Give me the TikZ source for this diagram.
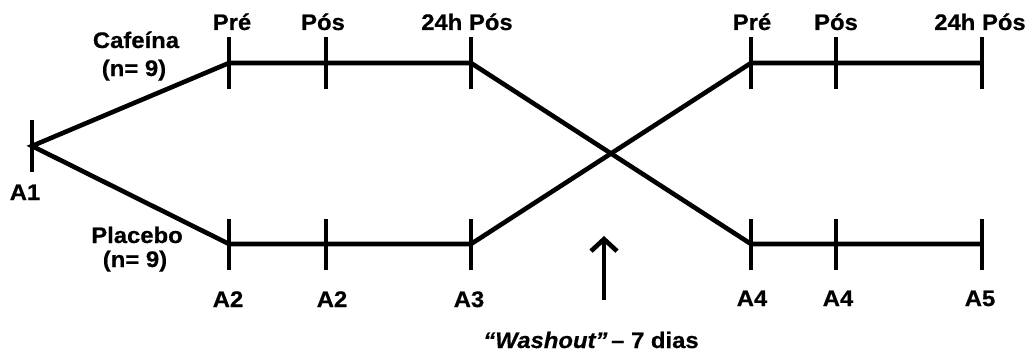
\documentclass[tikz,border=0pt]{standalone}
\usepackage{fontspec}
\setmainfont{Liberation Sans}[FakeStretch=1.06,FakeBold=0.6]
\usetikzlibrary{arrows.meta}
\begin{document}
\begin{tikzpicture}[x=1pt,y=-1pt,
  ln/.style={line width=4.6pt,line cap=butt,line join=miter},
  tk/.style={line width=4.6pt},
  lbl/.style={inner sep=0pt,anchor=base,font=\fontsize{22.5}{26}\selectfont\bfseries}]
\useasboundingbox (0,0) rectangle (1032,353);
% points
\coordinate (a1) at (32,146);
\coordinate (u1) at (229,63);
\coordinate (u2) at (326,63);
\coordinate (u3) at (471,63);
\coordinate (u4) at (751,63);
\coordinate (u5) at (836,63);
\coordinate (u6) at (982,63);
\coordinate (l1) at (229,244);
\coordinate (l2) at (326,244);
\coordinate (l3) at (471,244);
\coordinate (l4) at (751,244);
\coordinate (l5) at (836,244);
\coordinate (l6) at (982,244);
% lines
\draw[ln] (u1) -- (a1) -- (l1);
\draw[ln] (u1) -- (u3) -- (l4) -- (l6);
\draw[ln] (l1) -- (l3) -- (u4) -- (u6);
% ticks
\foreach \p in {a1}{\draw[tk] ([yshift=-26pt]\p) -- ([yshift=26pt]\p);}
\foreach \p in {u1,u2,u3,u4,u5,u6,l1,l2,l3,l4,l5,l6}{\draw[tk] ([yshift=-25.5pt]\p) -- ([yshift=25.5pt]\p);}
% labels top
\node[lbl] (t1) at (232,30) {Pré};
\node[lbl] (t2) at (323,30) {Pós};
\node[lbl] (t3) at (467,30) {24h Pós};
\node[lbl] (t4) at (752,30) {Pré};
\node[lbl] (t5) at (836,30) {Pós};
\node[lbl] (t6) at (980,30) {24h Pós};
\node[lbl] (caf) at (136,48) {Cafeína};
\node[lbl] (cafn) at (134,76) {(n= 9)};
\node[lbl] (pla) at (137,243) {Placebo};
\node[lbl] (plan) at (135,267) {(n= 9)};
\node[lbl] (la1) at (25,200) {A1};
\node[lbl] (b1) at (228,307) {A2};
\node[lbl] (b2) at (332,307) {A2};
\node[lbl] (b3) at (469,307) {A3};
\node[lbl] (b4) at (752,306) {A4};
\node[lbl] (b5) at (838,306) {A4};
\node[lbl] (b6) at (980,306) {A5};
\node[lbl] (wash) at (591,348) {\itshape “Washout”\,\upshape–\ 7 dias};
% arrow
\coordinate (arB) at (604,300);
\coordinate (arT) at (604,236);
\draw[line width=4.6pt,-{Straight Barb[length=12pt,width=26pt,line width=4.6pt]}] (arB) -- (arT);
\end{tikzpicture}
\end{document}
